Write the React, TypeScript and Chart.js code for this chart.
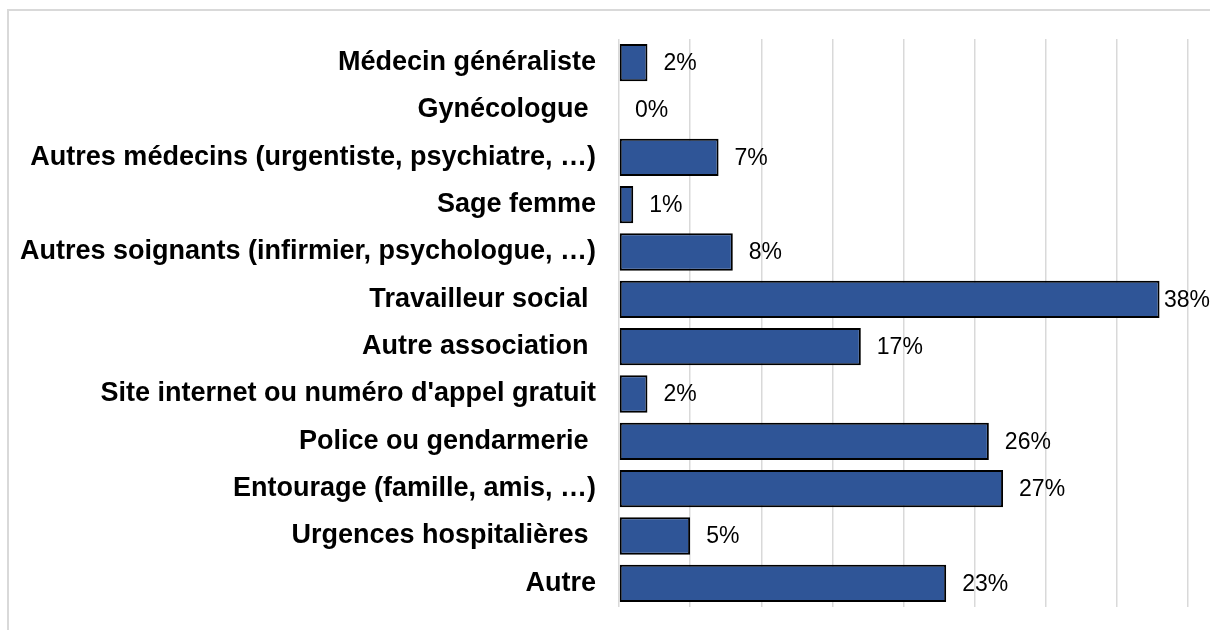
import React, { useEffect, useRef } from "react";
import { Chart, registerables } from "chart.js";

Chart.register(...registerables);

const categories = [
  "Médecin généraliste",
  "Gynécologue ",
  "Autres médecins (urgentiste, psychiatre, …)",
  "Sage femme",
  "Autres soignants (infirmier, psychologue, …)",
  "Travailleur social ",
  "Autre association ",
  "Site internet ou numéro d'appel gratuit",
  "Police ou gendarmerie ",
  "Entourage (famille, amis, …)",
  "Urgences hospitalières ",
  "Autre",
];

const values = [2, 0, 7, 1, 8, 38, 17, 2, 26, 27, 5, 23];

const xTicks = [0, 5, 10, 15, 20, 25, 30, 35, 40];

const valueLabelPlugin = {
  id: "valueLabels",
  afterDatasetsDraw(chart: any) {
    const ctx = chart.ctx;
    const meta = chart.getDatasetMeta(0);
    ctx.save();
    ctx.font = "23px 'Liberation Sans', Arial, sans-serif";
    ctx.fillStyle = "#000000";
    ctx.textBaseline = "middle";
    ctx.textAlign = "left";
    meta.data.forEach((bar: any, i: number) => {
      const text = values[i] + "%";
      const w = ctx.measureText(text).width;
      let x = bar.x + 16;
      if (x + w > chart.width) x = chart.width - w;
      ctx.fillText(text, x, bar.y + 1);
    });
    ctx.restore();
  },
};

export default function App() {
  const canvasRef = useRef<HTMLCanvasElement | null>(null);

  useEffect(() => {
    if (!canvasRef.current) return;
    const chart = new Chart(canvasRef.current, {
      type: "bar",
      data: {
        labels: categories,
        datasets: [
          {
            data: values,
            backgroundColor: "#2F5597",
            borderColor: "#000000",
            borderWidth: 2,
            borderSkipped: false,
            barPercentage: 0.79,
            categoryPercentage: 1,
          },
        ],
      },
      options: {
        indexAxis: "y",
        responsive: false,
        animation: false,
        maintainAspectRatio: false,
        layout: { padding: { top: 39, bottom: 23, right: 22, left: 0 } },
        plugins: {
          legend: { display: false },
          tooltip: { enabled: false },
        },
        scales: {
          x: {
            display: true,
            min: 0,
            max: 40,
            afterBuildTicks: (axis: any) => {
              axis.ticks = xTicks.map((v) => ({ value: v }));
            },
            ticks: { display: false, padding: 0 },
            grid: { color: "#d9d9d9", lineWidth: 1.5, drawTicks: false },
            border: { display: false },
            afterFit: (axis: any) => {
              axis.height = 0;
              axis.paddingLeft = 0;
              axis.paddingRight = 0;
              axis.paddingTop = 0;
              axis.paddingBottom = 0;
            },
          },
          y: {
            grid: { display: false, drawTicks: false },
            border: { display: false },
            ticks: {
              color: "#000000",
              padding: 23,
              font: {
                family: "'Liberation Sans', Arial, sans-serif",
                size: 27,
                weight: "bold",
              },
            },
            afterFit: (axis: any) => {
              axis.width = 619;
              axis.paddingTop = 0;
              axis.paddingBottom = 0;
              axis.paddingLeft = 0;
              axis.paddingRight = 0;
            },
          },
        },
      },
      plugins: [valueLabelPlugin],
    });
    return () => chart.destroy();
  }, []);

  return (
    <div style={{ position: "absolute", left: 0, top: 0, width: 1210, height: 630, background: "#ffffff", overflow: "hidden" }}>
      <div
        style={{
          position: "absolute",
          left: 7,
          top: 9,
          width: 1220,
          height: 640,
          borderTop: "2px solid #d9d9d9",
          borderLeft: "2px solid #d9d9d9",
        }}
      />
      <canvas ref={canvasRef} width={1210} height={630} style={{ position: "absolute", left: 0, top: 0 }} />
    </div>
  );
}
